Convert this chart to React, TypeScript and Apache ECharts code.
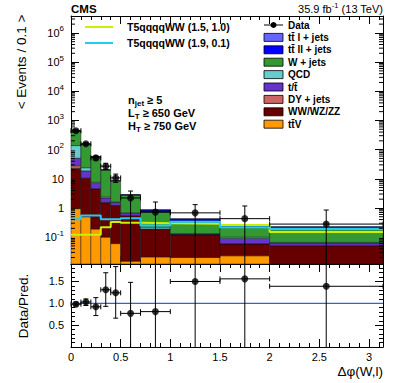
import React, { useEffect, useRef } from 'react';
import * as echarts from 'echarts';

// ---------------- data ----------------
const binEdges = [0, 0.1, 0.2, 0.3, 0.4, 0.5, 0.7, 1.0, 1.5, 2.0, Math.PI];

// background stack, bottom first (events / 0.1)
const bgNames = ['tt\u0304V', 'WW/WZ/ZZ', 'DY + jets', 't/t\u0304', 'QCD', 'W + jets', 'tt\u0304 ll + jets', 'tt\u0304 l + jets'];
const ttV = [0.95, 0.5, 0.19, 0.1, 0.06, 0.015, 0.021, 0.02, 0.023, 0.005];
const diboson = [22, 10, 4.3, 1.4, 1.14, 0.525, 0.16, 0.1, 0.035, 0.045];
const dyJets = [5, 0.3, 0.1, 0.05, 0.02, 0.005, 0.003, 0.002, 0.002, 0.002];
const singleTop = [23, 7.9, 2.4, 0.65, 0.33, 0.115, 0.007, 0.005, 0.03, 0.011];
const qcd = [87, 5.3, 0.6, 0.2, 0.05, 0.02, 0.03, 0.005, 0.01, 0.003];
const wJets = [287, 126, 48.4, 17.6, 6.8, 2.07, 0.51, 0.225, 0.12, 0.134];
const ttDilep = [5, 2, 1, 0.3, 0.2, 0.08, 0.12, 0.06, 0.02, 0.02];
const ttSemilep = [10, 3, 1, 0.5, 0.2, 0.05, 0.02, 0.01, 0.02, 0.01];

// signal
const sigNames = ['T5qqqqWW (1.5, 1.0)', 'T5qqqqWW (1.9, 0.1)'];
const sigA = [0.12, 0.12, 0.12, 0.22, 0.33, 0.31, 0.3, 0.29, 0.26, 0.15];
const sigB = [0.41, 0.55, 0.55, 0.41, 0.41, 0.44, 0.25, 0.34, 0.22, 0.19];

// data
const dataX = [0.05, 0.15, 0.25, 0.35, 0.45, 0.6, 0.85, 1.25, 1.75, 2.57];
const dataY = [445, 158, 52, 27, 10.7, 2.2, 0.72, 0.68, 0.43, 0.28];
const dataHi = [480, 175, 61, 34, 14.5, 3.8, 1.6, 1.3, 1.17, 0.85];
const dataLo = [410, 142, 44, 21, 7.5, 0, 0, 0, 0, 0];

// ratio
const ratioY = [0.98, 1.03, 0.92, 1.31, 1.24, 0.77, 0.81, 1.5, 1.56, 1.39];
const ratioHi = [1.03, 1.1, 1.13, 1.7, 1.84, 1.48, 3, 3, 3, 3];
const ratioLo = [0.94, 0.95, 0.72, 0.93, 0.66, 0, 0, 0, 0, 0];

// ---------------- styles ----------------
const bgColors = ['#ff9900', '#660000', '#cc6666', '#6633cc', '#66cccc', '#339933', '#0000ff', '#6666ff'];
const sigColors = ['#ccee00', '#22ccf0'];
const FONT = '"Liberation Sans", Arial, Helvetica, sans-serif';

const Y_MIN = 0.012;
const Y_MAX = 3.8e6;
const R_MIN = 0;
const R_MAX = 1.9;
const X_MAX = Math.PI;

export default function App() {
  const ref = useRef<HTMLDivElement>(null);

  useEffect(() => {
    document.body.style.margin = '0';
    const chart = echarts.init(ref.current as HTMLDivElement, null, { renderer: 'svg' });

    const nBins = binEdges.length - 1;
    const cum = new Array(nBins).fill(0);
    const comps = [ttV, diboson, dyJets, singleTop, qcd, wJets, ttDilep, ttSemilep];
    const bgSeries = comps.map((vals, k) => {
      const data = vals.map((v, i) => {
        const lo = cum[i];
        cum[i] += v;
        return [binEdges[i], binEdges[i + 1], lo, cum[i]];
      });
      return {
        type: 'custom',
        name: bgNames[k],
        xAxisIndex: 0,
        yAxisIndex: 0,
        z: 2,
        encode: { x: [0, 1], y: [2, 3] },
        data,
        renderItem: (params: any, api: any) => {
          const lo = Math.max(api.value(2), Y_MIN);
          const hi = Math.min(api.value(3), Y_MAX);
          if (hi <= lo) return null;
          const a = api.coord([api.value(0), hi]);
          const b = api.coord([api.value(1), lo]);
          return {
            type: 'rect',
            shape: { x: a[0], y: a[1], width: b[0] - a[0], height: b[1] - a[1] },
            style: { fill: bgColors[k], stroke: 'rgba(20,20,20,0.8)', lineWidth: 0.6 },
          };
        },
      };
    });

    const sigSeries = [sigA, sigB].map((vals, k) => ({
      type: 'line',
      name: sigNames[k],
      xAxisIndex: 0,
      yAxisIndex: 0,
      step: 'end',
      z: 5,
      showSymbol: false,
      symbol: 'none',
      lineStyle: { color: sigColors[k], width: 2 },
      data: binEdges.map((e, i) => [e, vals[Math.min(i, vals.length - 1)]]),
    }));

    const errRender = (yMin: number, yMax: number) => (params: any, api: any) => {
      const x = api.value(0), y = api.value(1), lo = api.value(2), hi = api.value(3);
      const x0 = api.value(4), x1 = api.value(5);
      const c = api.coord([x, y]);
      const hiClip = hi >= yMax;
      const loClip = lo <= yMin;
      const hiP = api.coord([x, Math.min(hi, yMax)])[1];
      const loP = api.coord([x, Math.max(lo, yMin)])[1];
      const xa = api.coord([x0, y])[0];
      const xb = api.coord([x1, y])[0];
      const st = { stroke: '#000', lineWidth: 1 };
      const ch: any[] = [
        { type: 'line', shape: { x1: c[0], y1: hiP, x2: c[0], y2: loP }, style: st },
        { type: 'line', shape: { x1: xa, y1: c[1], x2: xb, y2: c[1] }, style: st },
        { type: 'line', shape: { x1: xa, y1: c[1] - 2.5, x2: xa, y2: c[1] + 2.5 }, style: st },
        { type: 'line', shape: { x1: xb, y1: c[1] - 2.5, x2: xb, y2: c[1] + 2.5 }, style: st },
      ];
      if (!hiClip) ch.push({ type: 'line', shape: { x1: c[0] - 2.5, y1: hiP, x2: c[0] + 2.5, y2: hiP }, style: st });
      if (!loClip) ch.push({ type: 'line', shape: { x1: c[0] - 2.5, y1: loP, x2: c[0] + 2.5, y2: loP }, style: st });
      return { type: 'group', children: ch };
    };

    const dataErr = dataX.map((x, i) => [x, dataY[i], dataLo[i], dataHi[i], binEdges[i], binEdges[i + 1]]);
    const ratioErr = dataX.map((x, i) => [x, ratioY[i], ratioLo[i], ratioHi[i], binEdges[i], binEdges[i + 1]]);

    const minorVals: number[][] = [];
    for (let e = -2; e <= 6; e++) {
      for (let m = 2; m <= 9; m++) {
        const v = m * Math.pow(10, e);
        if (v > Y_MIN && v < Y_MAX) minorVals.push([0, v]);
      }
    }

    const logFmt = (v: number) => {
      const e = Math.log10(v);
      const r = Math.round(e);
      if (Math.abs(e - r) > 1e-6) return '';
      if (r === 0) return '1';
      if (r === 1) return '10';
      return '10{sup|' + r + '}';
    };

    const lbl = { color: '#000', fontFamily: FONT, fontSize: 11 };
    const tickStyle = { color: '#000', width: 1 };
    const axLine = { show: true, lineStyle: { color: '#000', width: 1 } };

    const xBase = (grid: number, pos: string, labels: boolean) => ({
      type: 'value',
      gridIndex: grid,
      position: pos,
      min: 0,
      max: X_MAX,
      interval: 0.5,
      axisLine: { ...axLine, onZero: false },
      axisTick: { show: true, inside: true, length: 8, lineStyle: tickStyle },
      minorTick: { show: true, splitNumber: 5, length: 4, lineStyle: tickStyle },
      splitLine: { show: false },
      axisLabel: labels
        ? {
            show: true,
            ...lbl,
            margin: 4,
            showMaxLabel: false,
            formatter: (v: number) => (Math.abs(v * 2 - Math.round(v * 2)) < 1e-9 ? String(v) : ''),
          }
        : { show: false },
    });

    const yLog = (pos: string, labels: boolean) => ({
      type: 'log',
      gridIndex: 0,
      position: pos,
      min: Y_MIN,
      max: Y_MAX,
      logBase: 10,
      axisLine: { ...axLine, onZero: false },
      axisTick: { show: true, inside: true, length: 8, lineStyle: tickStyle },
      splitLine: { show: false },
      axisLabel: labels
        ? {
            show: true,
            ...lbl,
            margin: 7,
            showMinLabel: false,
            showMaxLabel: false,
            formatter: logFmt,
            rich: { sup: { fontSize: 8, fontFamily: FONT, color: '#000', padding: [0, 0, 8, 0] } },
          }
        : { show: false },
    });

    const yRatio = (pos: string, labels: boolean) => ({
      type: 'value',
      gridIndex: 1,
      position: pos,
      min: R_MIN,
      max: R_MAX,
      interval: 0.5,
      axisLine: { ...axLine, onZero: false },
      axisTick: { show: true, inside: true, length: 8, lineStyle: tickStyle },
      minorTick: { show: true, splitNumber: 5, length: 4, lineStyle: tickStyle },
      splitLine: { show: false },
      axisLabel: labels
        ? {
            show: true,
            ...lbl,
            margin: 7,
            showMinLabel: false,
            showMaxLabel: false,
            formatter: (v: number) => (v > 0 && Math.abs(v * 2 - Math.round(v * 2)) < 1e-9 ? v.toFixed(1) : ''),
          }
        : { show: false },
    });

    const legendRows = bgNames.slice().reverse();
    const legendCols = bgColors.slice().reverse();
    const graphic: any[] = [
      { type: 'text', x: 71, y: 9, style: { text: 'CMS', font: `bold 11.5px ${FONT}`, fill: '#000', verticalAlign: 'middle' } },
      {
        type: 'text', x: 383, y: 9,
        style: {
          text: '35.9 fb{sup|-1} (13 TeV)', font: `11px ${FONT}`, fill: '#000', align: 'right', verticalAlign: 'middle',
          rich: { sup: { fontSize: 7.5, fontFamily: FONT, fill: '#000', padding: [0, 0, 7, 0] } },
        },
      },
      {
        type: 'text', x: 21, y: 62, rotation: Math.PI / 2,
        style: { text: '< Events / 0.1 >', font: `13.5px ${FONT}`, fill: '#000', align: 'center', verticalAlign: 'middle' },
      },
      {
        type: 'text', x: 23, y: 306, rotation: Math.PI / 2,
        style: { text: 'Data/Pred.', font: `13.5px ${FONT}`, fill: '#000', align: 'center', verticalAlign: 'middle' },
      },
      {
        type: 'text', x: 383, y: 371,
        style: { text: '\u0394\u03c6(W,l)', font: `13.5px ${FONT}`, fill: '#000', align: 'right', verticalAlign: 'middle' },
      },
    ];
    // signal legend
    sigNames.forEach((n, k) => {
      const y = 27 + 16 * k;
      graphic.push({ type: 'line', shape: { x1: 85, y1: y, x2: 113, y2: y }, style: { stroke: sigColors[k], lineWidth: 2 } });
      graphic.push({ type: 'text', x: 127, y, style: { text: n, font: `bold 10.5px ${FONT}`, fill: '#000', verticalAlign: 'middle' } });
    });
    // data legend
    graphic.push({ type: 'line', shape: { x1: 264, y1: 25, x2: 283, y2: 25 }, style: { stroke: '#000', lineWidth: 1 } });
    graphic.push({ type: 'circle', shape: { cx: 273.5, cy: 25, r: 3 }, style: { fill: '#000' } });
    graphic.push({ type: 'text', x: 288, y: 25, style: { text: 'Data', font: `bold 10px ${FONT}`, fill: '#000', verticalAlign: 'middle' } });
    legendRows.forEach((n, r) => {
      const y = 25 + 12.4 * (r + 1);
      graphic.push({ type: 'rect', shape: { x: 264, y: y - 4, width: 19, height: 8 }, style: { fill: legendCols[r], stroke: '#000', lineWidth: 0.8 } });
      graphic.push({ type: 'text', x: 288, y, style: { text: n, font: `bold 10px ${FONT}`, fill: '#000', verticalAlign: 'middle' } });
    });
    // cuts
    const cutRich = {
      b: { fontSize: 11, fontWeight: 'bold', fontFamily: FONT, fill: '#000' },
      s: { fontSize: 8, fontWeight: 'bold', fontFamily: FONT, fill: '#000', padding: [7, 0, 0, 0] },
    };
    ['{b|n}{s|jet}{b| \u2265 5}', '{b|L}{s|T}{b| \u2265 650 GeV}', '{b|H}{s|T}{b| \u2265 750 GeV}'].forEach((t, k) => {
      graphic.push({ type: 'text', x: 128, y: 100 + 13 * k, style: { text: t, rich: cutRich, verticalAlign: 'middle', fill: '#000', font: `bold 11px ${FONT}` } });
    });

    const option: any = {
      animation: false,
      textStyle: { fontFamily: FONT },
      grid: [
        { left: 71, right: 16, top: 16, height: 248 },
        { left: 71, right: 16, top: 264, height: 83 },
      ],
      xAxis: [xBase(0, 'bottom', false), xBase(0, 'top', false), xBase(1, 'bottom', true), xBase(1, 'top', false)],
      yAxis: [yLog('left', true), yLog('right', false), yRatio('left', true), yRatio('right', false)],
      series: [
        ...bgSeries,
        ...sigSeries,
        {
          type: 'custom',
          name: 'minorTicks',
          xAxisIndex: 0,
          yAxisIndex: 0,
          z: 10,
          silent: true,
          encode: { x: 0, y: 1 },
          data: minorVals,
          renderItem: (params: any, api: any) => {
            const v = api.value(1);
            const l = api.coord([0, v]);
            const r = api.coord([X_MAX, v]);
            const st = { stroke: '#000', lineWidth: 1 };
            return {
              type: 'group',
              children: [
                { type: 'line', shape: { x1: l[0], y1: l[1], x2: l[0] + 4, y2: l[1] }, style: st },
                { type: 'line', shape: { x1: r[0] - 4, y1: r[1], x2: r[0], y2: r[1] }, style: st },
              ],
            };
          },
        },
        {
          type: 'custom',
          name: 'dataErr',
          xAxisIndex: 0,
          yAxisIndex: 0,
          z: 11,
          encode: { x: 0, y: 1 },
          data: dataErr,
          renderItem: errRender(Y_MIN, Y_MAX),
        },
        {
          type: 'scatter',
          name: 'Data',
          xAxisIndex: 0,
          yAxisIndex: 0,
          z: 12,
          symbolSize: 7,
          itemStyle: { color: '#000' },
          data: dataX.map((x, i) => [x, dataY[i]]),
        },
        {
          type: 'line',
          name: 'unity',
          xAxisIndex: 2,
          yAxisIndex: 2,
          z: 3,
          showSymbol: false,
          symbol: 'none',
          lineStyle: { color: '#3a5ae8', width: 1.3 },
          data: [[0, 1], [X_MAX, 1]],
        },
        {
          type: 'custom',
          name: 'ratioErr',
          xAxisIndex: 2,
          yAxisIndex: 2,
          z: 11,
          encode: { x: 0, y: 1 },
          data: ratioErr,
          renderItem: errRender(R_MIN, R_MAX),
        },
        {
          type: 'scatter',
          name: 'Ratio',
          xAxisIndex: 2,
          yAxisIndex: 2,
          z: 12,
          symbolSize: 7,
          itemStyle: { color: '#000' },
          data: dataX.map((x, i) => [x, ratioY[i]]),
        },
      ],
      graphic,
    };

    chart.setOption(option);
    return () => chart.dispose();
  }, []);

  return <div ref={ref} style={{ width: 399, height: 383 }} />;
}
